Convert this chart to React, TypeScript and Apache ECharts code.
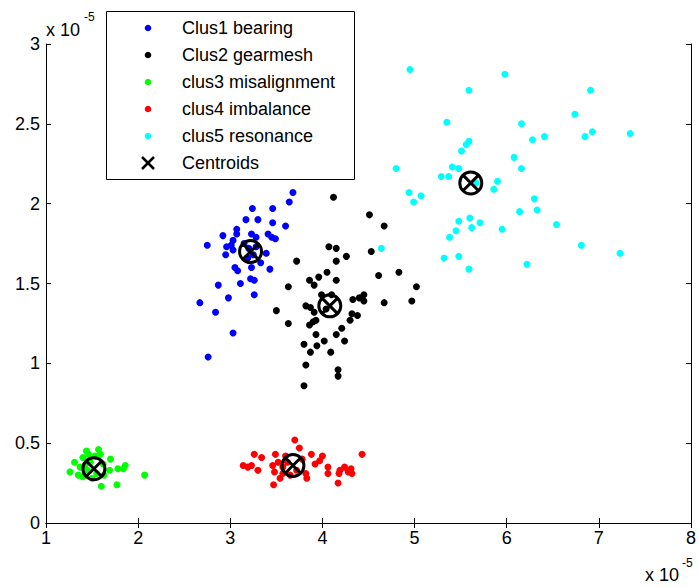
import React, { useEffect, useRef } from "react";
import * as echarts from "echarts";

const FONT = "'Liberation Sans', Arial, Helvetica, sans-serif";

const xTicks = { min: 1, max: 8, interval: 1 };
const yTicks = { min: 0, max: 3, interval: 0.5 };

const seriesNames = [
  "Clus1 bearing",
  "Clus2 gearmesh",
  "clus3 misalignment",
  "clus4 imbalance",
  "clus5 resonance",
  "Centroids",
];
const seriesColors = ["#0000ff", "#000000", "#00ff00", "#ff0000", "#00ffff"];

const clus1: number[][] = [
  [3.68, 2.07], [3.64, 2.01], [3.24, 1.97], [3.46, 1.97], [3.17, 1.9], [3.3, 1.9],
  [3.46, 1.88], [3.6, 1.86], [3.07, 1.84], [2.92, 1.8], [3.07, 1.81], [3.23, 1.81],
  [3.41, 1.81], [3.45, 1.79], [3.49, 1.78], [3.03, 1.77], [3.28, 1.79], [2.75, 1.74],
  [2.96, 1.73], [3.01, 1.74], [3.03, 1.71], [2.95, 1.68], [3.39, 1.69], [3.19, 1.66],
  [3.33, 1.63], [3.23, 1.6], [3.05, 1.6], [3.08, 1.58], [3.43, 1.59], [3.22, 1.53],
  [3.26, 1.52], [3.11, 1.5], [2.87, 1.49], [3.26, 1.43], [2.98, 1.41], [2.67, 1.38],
  [2.84, 1.32], [3.03, 1.19], [2.76, 1.04], [3.2, 1.72], [3.25, 1.68], [3.15, 1.75],
  [3.28, 1.73],
];

const clus2: number[][] = [
  [4.12, 2.04], [4.51, 1.93], [4.67, 1.86], [4.07, 1.73], [4.15, 1.72], [4.53, 1.7],
  [4.26, 1.67], [4.15, 1.64], [3.72, 1.64], [4.05, 1.57], [3.96, 1.54], [4.15, 1.52],
  [3.86, 1.52], [3.91, 1.49], [4.61, 1.55], [4.83, 1.57], [5.02, 1.48], [3.63, 1.48],
  [4.45, 1.43], [4.4, 1.41], [4.33, 1.4], [4.45, 1.39], [3.99, 1.43], [4.1, 1.43],
  [4.67, 1.38], [4.97, 1.39], [3.82, 1.36], [3.87, 1.35], [3.91, 1.32], [4.04, 1.34],
  [3.5, 1.33], [4.32, 1.31], [4.38, 1.3], [4.3, 1.27], [3.93, 1.27], [3.9, 1.26],
  [3.86, 1.24], [3.63, 1.25], [4.21, 1.22], [3.93, 1.18], [4.15, 1.18], [4.02, 1.14],
  [4.24, 1.14], [3.8, 1.12], [3.94, 1.11], [3.87, 1.07], [4.09, 1.07], [3.82, 0.99],
  [4.17, 0.96], [4.17, 0.92], [3.8, 0.86],
];

const clus3: number[][] = [
  [1.26, 0.32], [1.31, 0.38], [1.37, 0.35], [1.35, 0.3], [1.44, 0.45], [1.46, 0.43],
  [1.57, 0.46], [1.59, 0.43], [1.4, 0.41], [1.7, 0.4], [1.69, 0.33], [1.78, 0.34],
  [1.86, 0.36], [1.84, 0.34], [1.77, 0.24], [1.6, 0.23], [2.07, 0.3], [1.4, 0.29],
  [1.48, 0.38], [1.55, 0.31], [1.5, 0.28], [1.62, 0.37], [1.45, 0.33], [1.42, 0.36],
  [1.53, 0.42], [1.63, 0.3],
];

const clus4: number[][] = [
  [3.26, 0.43], [3.34, 0.41], [3.14, 0.36], [3.19, 0.35], [3.23, 0.36], [3.3, 0.33],
  [3.49, 0.43], [3.46, 0.36], [3.52, 0.38], [3.48, 0.32], [3.54, 0.28], [3.47, 0.24],
  [3.7, 0.52], [3.75, 0.47], [3.88, 0.43], [4.0, 0.42], [3.97, 0.39], [3.92, 0.37],
  [4.06, 0.35], [4.06, 0.31], [3.82, 0.31], [3.83, 0.28], [4.43, 0.43], [4.24, 0.35],
  [4.31, 0.34], [4.19, 0.33], [4.28, 0.32], [4.18, 0.31], [4.32, 0.31], [4.17, 0.25],
  [3.57, 0.35], [3.57, 0.31], [3.62, 0.38], [3.72, 0.33], [3.65, 0.3], [3.78, 0.4],
  [3.6, 0.42],
];

const clus5: number[][] = [
  [4.95, 2.84], [5.98, 2.81], [5.59, 2.71], [6.91, 2.71], [6.74, 2.56], [5.35, 2.51],
  [6.16, 2.5], [7.34, 2.44], [6.93, 2.45], [6.85, 2.42], [6.41, 2.42], [6.28, 2.4],
  [5.59, 2.39], [5.56, 2.37], [5.51, 2.33], [6.08, 2.29], [6.16, 2.22], [5.41, 2.23],
  [5.48, 2.22], [5.29, 2.17], [5.37, 2.17], [5.67, 2.13], [5.9, 2.14], [5.86, 2.09],
  [4.94, 2.07], [5.07, 2.05], [4.99, 2.01], [6.3, 2.03], [6.33, 1.96], [6.14, 1.95],
  [6.54, 1.87], [5.48, 1.89], [5.6, 1.91], [5.71, 1.88], [5.62, 1.85], [5.95, 1.84],
  [5.45, 1.83], [5.38, 1.79], [6.81, 1.74], [7.23, 1.69], [5.32, 1.66], [5.48, 1.67],
  [6.22, 1.62], [5.59, 1.59], [4.64, 1.72], [4.8, 2.22],
];

const centroids: number[][] = [
  [3.22, 1.7], [4.08, 1.36], [1.52, 0.34], [3.68, 0.36], [5.61, 2.13],
];

const CENTROID_SYMBOL =
  "path://M0,10A10,10,0,1,1,20,10A10,10,0,1,1,0,10ZM2.93,2.93L17.07,17.07M17.07,2.93L2.93,17.07";

export default function App() {
  const ref = useRef<HTMLDivElement>(null);

  useEffect(() => {
    document.body.style.margin = "0";
    const chart = echarts.init(ref.current!, undefined, { renderer: "svg" });

    const axisCommon = {
      type: "value" as const,
      axisLine: { show: true, lineStyle: { color: "#000", width: 1 } },
      axisTick: { show: true, inside: true, length: 5, lineStyle: { color: "#000" } },
      splitLine: { show: false },
    };

    const clusters = [clus1, clus2, clus3, clus4, clus5];

    const legendRowsY = [28, 55, 82, 109, 136, 163];
    const legendGraphics: any[] = [
      {
        type: "rect",
        shape: { x: 106.5, y: 11.5, width: 248, height: 168 },
        style: { fill: "#fff", stroke: "#000", lineWidth: 1 },
        z: 100,
      },
    ];
    seriesNames.forEach((name, i) => {
      const cy = legendRowsY[i];
      if (i < 5) {
        legendGraphics.push({
          type: "circle",
          shape: { cx: 148, cy, r: 3.3 },
          style: { fill: seriesColors[i] },
          z: 101,
        });
      } else {
        legendGraphics.push({
          type: "line",
          shape: { x1: 142, y1: cy - 6, x2: 154, y2: cy + 6 },
          style: { stroke: "#000", lineWidth: 2.5 },
          z: 101,
        });
        legendGraphics.push({
          type: "line",
          shape: { x1: 154, y1: cy - 6, x2: 142, y2: cy + 6 },
          style: { stroke: "#000", lineWidth: 2.5 },
          z: 101,
        });
      }
      legendGraphics.push({
        type: "text",
        x: 182,
        y: cy,
        style: {
          text: name,
          fill: "#000",
          font: `18px ${FONT}`,
          textAlign: "left",
          textVerticalAlign: "middle",
        },
        z: 101,
      });
    });

    const scaleGraphics: any[] = [
      {
        type: "text",
        x: 46,
        y: 30,
        style: { text: "x 10", fill: "#000", font: `18px ${FONT}`, textAlign: "left", textVerticalAlign: "middle" },
      },
      {
        type: "text",
        x: 84,
        y: 17,
        style: { text: "-5", fill: "#000", font: `12px ${FONT}`, textAlign: "left", textVerticalAlign: "middle" },
      },
      {
        type: "text",
        x: 645,
        y: 575,
        style: { text: "x 10", fill: "#000", font: `18px ${FONT}`, textAlign: "left", textVerticalAlign: "middle" },
      },
      {
        type: "text",
        x: 682,
        y: 563,
        style: { text: "-5", fill: "#000", font: `12px ${FONT}`, textAlign: "left", textVerticalAlign: "middle" },
      },
    ];

    chart.setOption({
      animation: false,
      backgroundColor: "#fff",
      grid: { left: 46, right: 6, top: 44, bottom: 64, containLabel: false },
      xAxis: [
        {
          ...axisCommon,
          position: "bottom",
          min: xTicks.min,
          max: xTicks.max,
          interval: xTicks.interval,
          axisLabel: { color: "#000", fontSize: 18, fontFamily: FONT, margin: 6 },
        },
        {
          ...axisCommon,
          position: "top",
          min: xTicks.min,
          max: xTicks.max,
          interval: xTicks.interval,
          axisLabel: { show: false },
        },
      ],
      yAxis: [
        {
          ...axisCommon,
          position: "left",
          min: yTicks.min,
          max: yTicks.max,
          interval: yTicks.interval,
          axisLabel: { color: "#000", fontSize: 18, fontFamily: FONT, margin: 6 },
        },
        {
          ...axisCommon,
          position: "right",
          min: yTicks.min,
          max: yTicks.max,
          interval: yTicks.interval,
          axisLabel: { show: false },
        },
      ],
      series: [
        ...clusters.map((d, i) => ({
          type: "scatter",
          name: seriesNames[i],
          data: d,
          symbol: "circle",
          symbolSize: 7,
          itemStyle: { color: seriesColors[i], opacity: 1 },
          xAxisIndex: 0,
          yAxisIndex: 0,
          z: 2,
        })),
        {
          type: "scatter",
          name: seriesNames[5],
          data: centroids,
          symbol: CENTROID_SYMBOL,
          symbolSize: 22,
          itemStyle: { color: "rgba(0,0,0,0)", borderColor: "#000", borderWidth: 3, opacity: 1 },
          xAxisIndex: 0,
          yAxisIndex: 0,
          z: 5,
        },
      ],
      graphic: [...scaleGraphics, ...legendGraphics],
    });

    return () => chart.dispose();
  }, []);

  return (
    <div
      ref={ref}
      style={{ position: "absolute", left: 0, top: 0, width: 699, height: 587 }}
    />
  );
}
